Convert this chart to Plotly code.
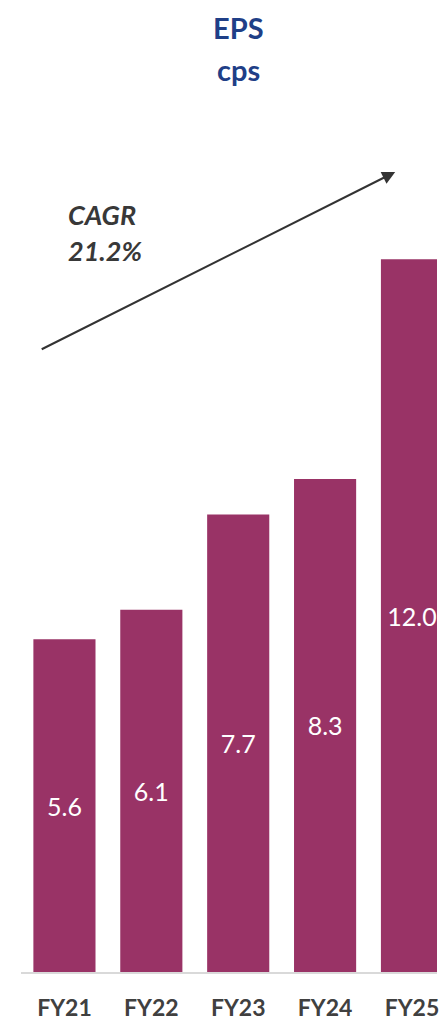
import plotly.graph_objects as go

categories = ["FY21", "FY22", "FY23", "FY24", "FY25"]
eps_values = [5.6, 6.1, 7.7, 8.3, 12.0]
bar_labels = ["5.6", "6.1", "7.7", "8.3", "12.0"]
title_lines = ["EPS", "cps"]
cagr_text = ["CAGR", "21.2%"]

W, H = 439, 1021
L, R, T, B = 21, 0, 0, 49
plot_w = W - L - R
plot_h = H - T - B

def px_to_paper(px, py):
    return (px - L) / plot_w, (H - B - py) / plot_h

fig = go.Figure()
fig.add_trace(go.Bar(
    x=categories,
    y=eps_values,
    text=bar_labels,
    textposition="inside",
    insidetextanchor="middle",
    textangle=0,
    textfont=dict(family="Lato", size=25, color="white"),
    marker=dict(color="#993366", line=dict(width=0)),
    width=0.715,
    cliponaxis=True,
    hoverinfo="skip",
))

annotations = []
# Title
tx, ty = px_to_paper(240, 27)
annotations.append(dict(x=tx, y=ty, xref="paper", yref="paper", text=title_lines[0],
                        showarrow=False, xanchor="center", yanchor="middle",
                        font=dict(family="Lato", size=29, color="#1F3F87", weight="bold")))
tx, ty = px_to_paper(240, 70)
annotations.append(dict(x=tx, y=ty, xref="paper", yref="paper", text=title_lines[1],
                        showarrow=False, xanchor="center", yanchor="middle",
                        font=dict(family="Lato", size=29, color="#1F3F87", weight="bold")))
# CAGR text
cx, cy = px_to_paper(66, 214)
annotations.append(dict(x=cx, y=cy, xref="paper", yref="paper", text=cagr_text[0],
                        showarrow=False, xanchor="left", yanchor="middle",
                        font=dict(family="Lato", size=27, color="#383838", weight="bold", style="italic")))
cx, cy = px_to_paper(66, 250)
annotations.append(dict(x=cx, y=cy, xref="paper", yref="paper", text=cagr_text[1],
                        showarrow=False, xanchor="left", yanchor="middle",
                        font=dict(family="Lato", size=27, color="#383838", weight="bold", style="italic")))
# Arrow
hx, hy = px_to_paper(397, 172)
annotations.append(dict(x=hx, y=hy, xref="paper", yref="paper", text="",
                        showarrow=True, ax=42 - 397, ay=350 - 172,
                        arrowhead=2, arrowsize=1.3, arrowwidth=2, arrowcolor="#333333",
                        standoff=0, startstandoff=0))

fig.update_layout(
    width=W, height=H,
    margin=dict(l=L, r=R, t=T, b=B, pad=0),
    paper_bgcolor="white", plot_bgcolor="white",
    showlegend=False,
    annotations=annotations,
    xaxis=dict(
        range=[-0.5, 4.288],
        showline=True, linecolor="#D9D9D9", linewidth=2,
        showgrid=False, zeroline=False, ticks="",
        tickfont=dict(family="Lato", size=23, color="#404040", weight="bold"),
        ticklabelstandoff=14,
        fixedrange=True,
    ),
    yaxis=dict(
        range=[0, plot_h / 59.4],
        visible=False, showgrid=False, zeroline=False,
        fixedrange=True,
    ),
)

fig.write_html(
    "out.html",
    config={"displayModeBar": False},
    post_script="document.body.style.margin='0';document.body.style.overflow='hidden';",
)
